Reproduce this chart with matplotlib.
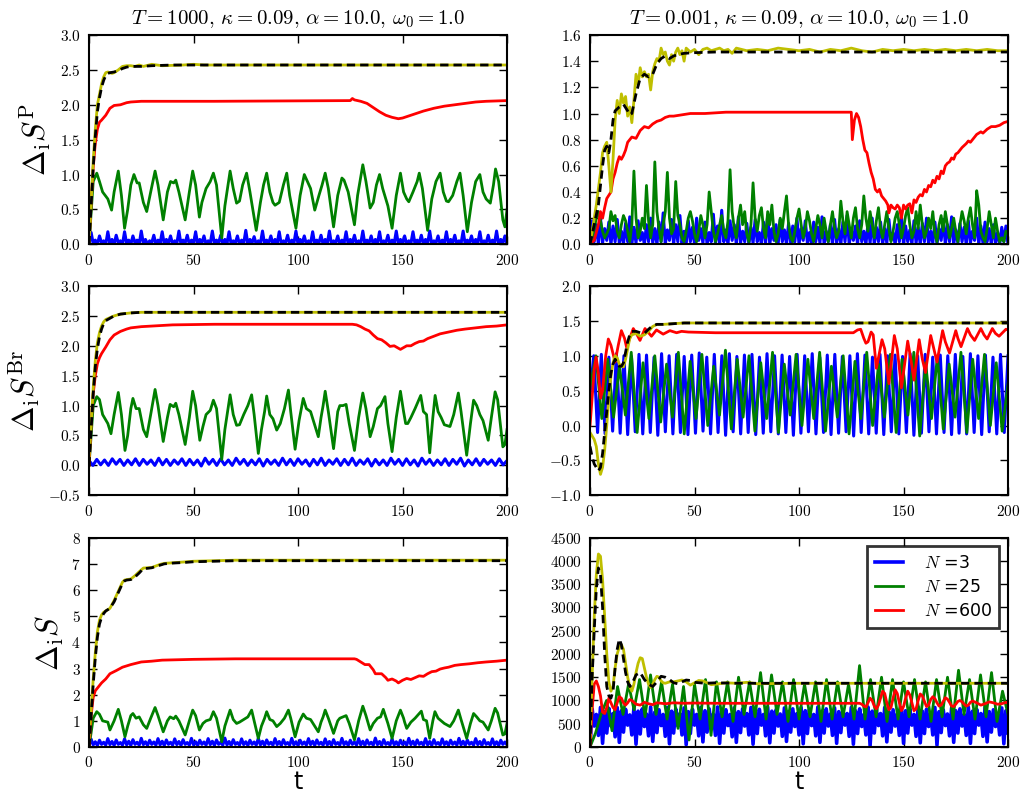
import numpy as np
import matplotlib.pyplot as plt
from matplotlib.ticker import FuncFormatter, MultipleLocator

plt.rcParams['mathtext.fontset'] = 'cm'
plt.rcParams['font.family'] = ['DejaVu Sans']

# ---------------- data (t, value) ----------------
titles = [r'$T=1000,\,\kappa=0.09,\,\alpha=10.0,\,\omega_0=1.0$',
          r'$T=0.001,\,\kappa=0.09,\,\alpha=10.0,\,\omega_0=1.0$']
ylabels = [r'$\Delta_{\rm i}S^{\rm P}$', r'$\Delta_{\rm i}S^{\rm Br}$', r'$\Delta_{\rm i}S$']
legend_labels = [r'$N$ =3', r'$N$ =25', r'$N$ =600']

# --- panel A: T=1000, dS^P
blue_A = [0.00, 0.17, 0.01, 0.06, 0.00, 0.12, 0.02, 0.05, 0.00, 0.18,
          0.01, 0.07, 0.00, 0.13, 0.02, 0.05, 0.00, 0.18, 0.01, 0.06,
          0.00, 0.12, 0.02, 0.06, 0.00, 0.19, 0.01, 0.07, 0.00, 0.05,
          0.02, 0.13, 0.00, 0.06, 0.01, 0.18, 0.00, 0.07, 0.02, 0.12,
          0.00, 0.05, 0.01, 0.19, 0.00, 0.06, 0.02, 0.13, 0.00, 0.06,
          0.01, 0.18, 0.00, 0.07, 0.02, 0.12, 0.00, 0.05, 0.01, 0.19,
          0.00, 0.06, 0.02, 0.13, 0.00, 0.07, 0.01, 0.18, 0.00, 0.05,
          0.02, 0.12, 0.00, 0.06, 0.01, 0.20, 0.00, 0.07, 0.02, 0.11,
          0.00, 0.05, 0.01, 0.19, 0.00, 0.06, 0.02, 0.12, 0.00, 0.07,
          0.01, 0.18, 0.00, 0.05, 0.02, 0.13, 0.00, 0.06, 0.01, 0.19,
          0.00, 0.07, 0.02, 0.12, 0.00, 0.05, 0.01, 0.18, 0.00, 0.06,
          0.02, 0.13, 0.00, 0.07, 0.01, 0.19, 0.00, 0.05, 0.02, 0.12,
          0.00, 0.06, 0.01, 0.18, 0.00, 0.07, 0.02, 0.13, 0.00, 0.05,
          0.01, 0.19, 0.00, 0.06, 0.02, 0.12, 0.00, 0.07, 0.01, 0.18,
          0.00, 0.05, 0.02, 0.13, 0.00, 0.06, 0.01, 0.19, 0.00, 0.07,
          0.02, 0.12, 0.00, 0.05, 0.01, 0.18, 0.00, 0.06, 0.02, 0.13,
          0.00, 0.07, 0.01, 0.19, 0.00, 0.05, 0.02, 0.12, 0.00, 0.06,
          0.01, 0.18, 0.00, 0.07, 0.02, 0.13, 0.00, 0.05, 0.01, 0.19,
          0.00, 0.06, 0.02, 0.12, 0.00, 0.07, 0.01, 0.18, 0.00, 0.05,
          0.02, 0.13, 0.00, 0.06, 0.01, 0.19, 0.00, 0.07, 0.02, 0.12,
          0.00]
green_A = [(0, 0.0), (2, 0.9), (3.7, 1.02), (5, 0.9), (6.5, 0.75), (9, 0.65), (10.8, 0.49), (12, 0.75),
           (14, 1.05), (15.5, 0.7), (17, 0.23), (18.5, 0.5), (20, 0.85), (21.5, 1.0), (23, 0.88), (24, 0.88),
           (26, 0.6), (27.6, 0.47), (29.5, 0.75), (31.6, 1.05), (33, 0.85), (35.5, 0.35), (37.5, 0.75),
           (39, 0.9), (40.5, 0.88), (41.5, 0.92), (43, 0.75), (46, 0.35), (48, 0.75), (49.6, 1.05),
           (51, 0.85), (52.8, 0.39), (54, 0.6), (56, 0.8), (58, 0.9), (59.5, 1.02), (61, 0.85), (63.5, 0.09),
           (65, 0.55), (67.5, 1.05), (69, 0.8), (70.6, 0.59), (72, 0.62), (73.5, 0.85), (75.4, 1.02),
           (77, 0.75), (80, 0.2), (82, 0.6), (83.5, 0.85), (85, 1.02), (86.5, 0.75), (88, 0.6), (89, 0.56),
           (91, 0.6), (93, 0.85), (94.6, 1.02), (96, 0.7), (99, 0.23), (101, 0.7), (103, 1.0), (104.5, 0.9),
           (106, 0.8), (108, 0.49), (110, 0.7), (111.5, 0.85), (113, 1.02), (114.5, 0.8), (117, 0.25),
           (119, 0.7), (121, 0.95), (122, 0.92), (124, 0.75), (127, 0.28), (128.5, 0.7), (131, 1.14),
           (132.5, 0.9), (134.5, 0.52), (136, 0.6), (137.5, 0.85), (139, 1.0), (140.5, 0.8), (143, 0.55),
           (145, 0.23), (147, 0.7), (149, 1.02), (150.5, 0.75), (152, 0.65), (153, 0.61), (155, 0.75),
           (157, 0.9), (158, 1.02), (159.5, 0.8), (162, 0.2), (164, 0.65), (166, 0.9), (168, 1.02),
           (169.5, 0.75), (171, 0.62), (172, 0.61), (174, 0.7), (176, 0.9), (177.5, 1.02), (179, 0.7),
           (181, 0.18), (183, 0.6), (185, 0.9), (187, 1.0), (188.5, 0.75), (190, 0.65), (192, 0.59),
           (193.5, 0.85), (194.5, 1.08), (196, 0.9), (198, 0.35), (199, 0.25), (200, 0.5)]
red_A = [(0, 0), (1, 0.6), (2, 1.1), (3, 1.45), (4, 1.65), (5, 1.75), (6, 1.78), (8, 1.85), (10, 1.95),
         (12, 1.99), (15, 2.0), (18, 2.03), (20, 2.04), (25, 2.05), (60, 2.05), (125, 2.06), (126, 2.09),
         (127, 2.07), (130, 2.05), (133, 2.02), (136, 1.96), (139, 1.9), (142, 1.85), (145, 1.82),
         (148, 1.8), (150, 1.81), (153, 1.84), (156, 1.87), (160, 1.91), (165, 1.95), (170, 1.98),
         (175, 2.0), (180, 2.02), (185, 2.04), (190, 2.05), (200, 2.06)]
yellow_A = [(0, 0), (1, 0.6), (2, 1.2), (3, 1.65), (4, 2.0), (5, 2.15), (6, 2.3), (7, 2.4), (8, 2.46),
            (9, 2.47), (10, 2.46), (11, 2.45), (12, 2.46), (14, 2.5), (16, 2.55), (18, 2.56), (20, 2.56),
            (22, 2.55), (24, 2.57), (26, 2.55), (30, 2.58), (35, 2.56), (45, 2.57), (50, 2.58),
            (55, 2.57), (200, 2.57)]
black_A = [(0, 0), (1, 0.55), (2, 1.1), (3, 1.55), (4, 1.9), (5, 2.1), (6, 2.25), (7, 2.35), (8, 2.42),
           (9, 2.45), (10, 2.46), (12, 2.47), (14, 2.49), (16, 2.52), (18, 2.54), (20, 2.55), (25, 2.55),
           (30, 2.56), (40, 2.57), (200, 2.57)]

# --- panel B: T=0.001, dS^P
blue_B = [0.00, 0.18, 0.02, 0.15, 0.00, 0.20, 0.01, 0.12, 0.03, 0.17,
          0.00, 0.14, 0.02, 0.19, 0.01, 0.10, 0.00, 0.16, 0.02, 0.21,
          0.00, 0.13, 0.01, 0.18, 0.03, 0.09, 0.00, 0.15, 0.02, 0.20,
          0.01, 0.12, 0.00, 0.17, 0.02, 0.24, 0.00, 0.11, 0.03, 0.19,
          0.00, 0.15, 0.02, 0.22, 0.01, 0.10, 0.00, 0.18, 0.02, 0.13,
          0.00, 0.20, 0.03, 0.12, 0.01, 0.17, 0.00, 0.09, 0.02, 0.23,
          0.01, 0.14, 0.00, 0.26, 0.02, 0.11, 0.00, 0.18, 0.03, 0.15,
          0.00, 0.21, 0.01, 0.10, 0.02, 0.16, 0.00, 0.13, 0.01, 0.19,
          0.02, 0.09, 0.00, 0.17, 0.01, 0.22, 0.00, 0.12, 0.03, 0.15,
          0.00, 0.19, 0.02, 0.11, 0.00, 0.16, 0.01, 0.14, 0.02, 0.20,
          0.00, 0.12, 0.03, 0.18, 0.01, 0.09, 0.00, 0.17, 0.02, 0.13,
          0.01, 0.21, 0.00, 0.10, 0.02, 0.15, 0.00, 0.19, 0.01, 0.12,
          0.00, 0.17, 0.02, 0.22, 0.00, 0.11, 0.03, 0.14, 0.00, 0.18,
          0.02, 0.10, 0.00, 0.16, 0.01, 0.20, 0.00, 0.13, 0.02, 0.17,
          0.00, 0.12, 0.01, 0.19, 0.03, 0.09, 0.00, 0.15, 0.02, 0.21,
          0.00, 0.14, 0.02, 0.11, 0.00, 0.18, 0.01, 0.13, 0.00, 0.16,
          0.02, 0.20, 0.00, 0.10, 0.01, 0.17, 0.00, 0.12, 0.03, 0.19,
          0.00, 0.15, 0.02, 0.21, 0.00, 0.11, 0.01, 0.16, 0.02, 0.13,
          0.00, 0.18, 0.01, 0.10, 0.03, 0.20, 0.00, 0.14, 0.01, 0.17,
          0.02, 0.12, 0.00, 0.15, 0.01, 0.09, 0.00, 0.13, 0.02, 0.14,
          0.00]
green_B = [0.00, 0.05, 0.12, 0.20, 0.25, 0.18, 0.10, 0.05, 0.08, 0.12,
           0.25, 0.18, 0.22, 0.10, 0.05, 0.15, 0.22, 0.18, 0.10, 0.02,
           0.15, 0.56, 0.20, 0.05, 0.10, 0.20, 0.12, 0.45, 0.18, 0.05,
           0.15, 0.63, 0.25, 0.12, 0.02, 0.15, 0.25, 0.55, 0.20, 0.08,
           0.12, 0.48, 0.22, 0.15, 0.05, 0.02, 0.10, 0.20, 0.25, 0.18,
           0.08, 0.02, 0.10, 0.22, 0.15, 0.05, 0.15, 0.40, 0.25, 0.10,
           0.02, 0.08, 0.15, 0.22, 0.10, 0.05, 0.18, 0.57, 0.25, 0.12,
           0.05, 0.20, 0.30, 0.15, 0.25, 0.08, 0.02, 0.15, 0.47, 0.20,
           0.10, 0.22, 0.28, 0.12, 0.05, 0.25, 0.15, 0.30, 0.10, 0.02,
           0.08, 0.20, 0.12, 0.25, 0.37, 0.15, 0.05, 0.02, 0.10, 0.20,
           0.27, 0.15, 0.05, 0.12, 0.25, 0.18, 0.08, 0.02, 0.12, 0.22,
           0.15, 0.05, 0.20, 0.10, 0.02, 0.15, 0.25, 0.12, 0.05, 0.10,
           0.33, 0.18, 0.08, 0.25, 0.15, 0.05, 0.20, 0.28, 0.12, 0.05,
           0.15, 0.37, 0.20, 0.10, 0.25, 0.15, 0.05, 0.18, 0.28, 0.12,
           0.05, 0.15, 0.25, 0.12, 0.02, 0.10, 0.20, 0.25, 0.15, 0.05,
           0.12, 0.22, 0.28, 0.15, 0.05, 0.10, 0.25, 0.12, 0.30, 0.15,
           0.05, 0.10, 0.20, 0.12, 0.25, 0.08, 0.02, 0.15, 0.22, 0.10,
           0.25, 0.15, 0.05, 0.12, 0.20, 0.10, 0.02, 0.15, 0.25, 0.18,
           0.08, 0.20, 0.28, 0.15, 0.05, 0.41, 0.30, 0.10, 0.05, 0.02,
           0.12, 0.25, 0.15, 0.05, 0.20, 0.10, 0.02, 0.05, 0.02, 0.10,
           0.08]
red_B = [(0, 0), (2, 0.03), (4, 0.15), (5, 0.25), (6, 0.2), (7, 0.28), (8, 0.35), (10, 0.4), (11, 0.5),
         (12, 0.55), (13, 0.62), (14, 0.67), (15, 0.65), (16, 0.68), (17, 0.72), (18, 0.78), (19, 0.8),
         (20, 0.82), (22, 0.81), (24, 0.87), (26, 0.9), (28, 0.89), (30, 0.92), (32, 0.94), (34, 0.95),
         (36, 0.97), (38, 0.98), (40, 0.98), (44, 0.99), (48, 1.0), (55, 1.0), (65, 1.01), (125, 1.01),
         (125.5, 0.8), (126.5, 0.95), (127.5, 1.0), (128.5, 0.97), (129.5, 0.9), (130.5, 0.8),
         (131.5, 0.72), (132.5, 0.7), (133.5, 0.62), (134.5, 0.55), (135.5, 0.5), (136.5, 0.42),
         (137.5, 0.4), (138.5, 0.42), (139.5, 0.37), (140.5, 0.35), (141.5, 0.33), (142.5, 0.3),
         (143, 0.24), (144, 0.3), (145, 0.28), (146, 0.27), (147, 0.3), (148, 0.28), (149, 0.2),
         (150, 0.3), (151, 0.27), (152, 0.3), (153, 0.31), (154, 0.24), (155, 0.34), (156, 0.32),
         (157, 0.36), (158, 0.38), (159, 0.37), (160, 0.42), (161, 0.4), (162, 0.45), (163, 0.44),
         (164, 0.49), (165, 0.47), (166, 0.52), (167, 0.5), (168, 0.56), (169, 0.54), (170, 0.6),
         (171, 0.62), (172, 0.63), (173, 0.66), (174, 0.65), (175, 0.69), (176, 0.7), (178, 0.74),
         (180, 0.77), (181, 0.79), (182, 0.78), (184, 0.82), (185, 0.84), (187, 0.86), (188, 0.85),
         (190, 0.88), (192, 0.9), (194, 0.9), (196, 0.91), (198, 0.93), (200, 0.94)]
yellow_B = [(0, 0), (2, 0.2), (3, 0.3), (5, 0.55), (6, 0.7), (7, 0.75), (8, 0.78), (9, 0.6), (10, 0.4),
            (11, 0.65), (12, 0.95), (13, 1.1), (14, 1.0), (15, 1.15), (16, 1.08), (17, 1.13), (18, 0.98),
            (19, 1.05), (20, 0.93), (21, 1.1), (22, 1.3), (23, 1.22), (24, 1.35), (25, 1.28), (26, 1.32),
            (27, 1.28), (28, 1.3), (29, 1.18), (30, 1.32), (31, 1.38), (32, 1.42), (33, 1.4), (34, 1.5),
            (35, 1.45), (36, 1.47), (37, 1.4), (38, 1.37), (39, 1.45), (40, 1.4), (41, 1.47), (42, 1.5),
            (43, 1.45), (44, 1.48), (45, 1.4), (46, 1.5), (48, 1.47), (50, 1.49), (52, 1.45), (54, 1.49),
            (56, 1.5), (58, 1.48), (60, 1.49), (62, 1.5), (64, 1.48), (66, 1.49), (68, 1.46), (70, 1.5),
            (75, 1.48), (80, 1.49), (85, 1.48), (90, 1.5), (95, 1.49), (100, 1.48), (105, 1.49),
            (110, 1.47), (115, 1.49), (120, 1.48), (125, 1.5), (130, 1.48), (135, 1.47), (140, 1.49),
            (145, 1.48), (150, 1.49), (155, 1.48), (160, 1.49), (165, 1.48), (170, 1.49), (175, 1.48),
            (180, 1.49), (185, 1.48), (190, 1.49), (195, 1.48), (200, 1.48)]
black_B = [(0, 0), (2, 0.15), (4, 0.3), (5, 0.45), (6, 0.6), (7, 0.72), (8, 0.75), (9, 0.7), (10, 0.8),
           (11, 0.95), (12, 1.02), (14, 1.05), (16, 1.07), (18, 1.02), (19, 0.99), (20, 1.0), (22, 1.15),
           (24, 1.27), (26, 1.3), (28, 1.28), (30, 1.3), (32, 1.38), (34, 1.42), (36, 1.44), (38, 1.42),
           (40, 1.44), (42, 1.45), (45, 1.46), (50, 1.465), (60, 1.47), (200, 1.47)]

# --- panel C: T=1000, dS^Br
blue_C = [0.08, 0.00, 0.10, 0.01, 0.09, 0.00, 0.11, 0.02, 0.10, 0.00,
          0.09, 0.01, 0.11, 0.00, 0.10, 0.02, 0.09, 0.00, 0.12, 0.01,
          0.10, 0.00, 0.09, 0.02, 0.11, 0.00, 0.10, 0.01, 0.09, -0.01,
          0.12, 0.02, 0.10, 0.00, 0.11, 0.01, 0.09, 0.00, 0.12, 0.02,
          0.10, 0.00, 0.09, 0.01, 0.11, -0.01, 0.10, 0.02, 0.09, 0.00,
          0.12, 0.01, 0.10, 0.00, 0.11, 0.02, 0.09, -0.01, 0.10, 0.01,
          0.12, 0.00, 0.09, 0.02, 0.11, 0.00, 0.10, 0.01, 0.12, 0.00,
          0.09, 0.02, 0.11, -0.01, 0.10, 0.01, 0.09, 0.00, 0.12, 0.02,
          0.10, 0.00, 0.11, 0.01, 0.09, -0.01, 0.12, 0.02, 0.10, 0.00,
          0.09, 0.01, 0.11, 0.00, 0.10, 0.02, 0.12, -0.01, 0.09, 0.01,
          0.11, 0.00, 0.10, 0.02, 0.09, 0.00, 0.11, 0.01, 0.08]
green_C = [(0, 0.0), (2, 1.0), (3.7, 1.15), (5, 1.1), (6.5, 0.85), (9, 0.7), (10.5, 0.53), (12, 0.85),
           (14, 1.22), (15.5, 0.85), (17.2, 0.25), (18.5, 0.5), (20, 0.95), (21, 1.12), (22.5, 0.95),
           (24, 0.95), (26, 0.6), (27.6, 0.48), (29.5, 0.85), (31.6, 1.27), (33, 1.0), (35.5, 0.4),
           (37.5, 0.8), (38.8, 1.02), (40.5, 0.98), (41.5, 1.04), (43, 0.85), (46, 0.35), (48, 0.8),
           (49.6, 1.24), (51, 1.0), (53, 0.42), (54.5, 0.65), (56, 0.85), (58, 0.92), (59.5, 1.09),
           (61, 0.95), (63.5, 0.1), (65, 0.6), (67.5, 1.18), (69, 0.85), (70.6, 0.67), (72, 0.68),
           (74, 0.85), (76, 1.0), (77.8, 1.18), (79, 0.85), (81, 0.2), (82.5, 0.6), (84, 0.9), (85, 1.16),
           (86.5, 0.85), (88, 0.78), (89.8, 0.59), (91.5, 0.7), (93.5, 0.95), (95.4, 1.26), (96.5, 0.9),
           (98.6, 0.27), (100.5, 0.75), (102.5, 1.12), (104, 0.95), (106, 0.9), (109.7, 0.48), (111, 0.8),
           (112, 1.0), (113, 1.24), (114.5, 0.9), (117, 0.28), (119, 0.9), (120, 1.0), (121.5, 1.0),
           (123, 1.02), (124.5, 0.7), (127, 0.25), (129, 0.8), (131, 1.21), (132.5, 0.95), (134.5, 0.48),
           (136, 0.65), (138, 0.95), (139.5, 1.0), (141.6, 1.15), (143, 0.7), (145, 0.23), (147, 0.8),
           (149, 1.24), (150.5, 0.9), (151.5, 0.7), (152.5, 0.7), (154, 0.8), (156, 0.95), (158.7, 1.17),
           (160, 0.9), (161.5, 0.85), (163, 0.21), (164.5, 0.8), (165.6, 1.17), (167, 0.9), (168.5, 0.8),
           (170, 0.68), (172.7, 0.65), (174.5, 0.85), (176.7, 1.21), (178, 0.9), (180.7, 0.17),
           (182.5, 0.7), (184, 1.09), (185.5, 1.0), (187, 0.85), (188.5, 0.75), (191, 0.42), (192.5, 0.8),
           (194.3, 1.23), (195.5, 1.1), (198, 0.31), (199, 0.35), (200, 0.6)]
red_C = [(0, 0), (1, 0.7), (2, 1.2), (3, 1.5), (4, 1.7), (5, 1.8), (6, 1.87), (8, 1.98), (10, 2.1),
         (12, 2.18), (15, 2.24), (18, 2.28), (20, 2.3), (25, 2.32), (30, 2.33), (40, 2.35), (60, 2.36),
         (126, 2.36), (128, 2.35), (130, 2.32), (132, 2.28), (134, 2.25), (136, 2.18), (138, 2.12),
         (140, 2.1), (142, 2.05), (144, 1.99), (146, 2.0), (148, 1.96), (149, 1.94), (150, 1.96),
         (152, 2.0), (154, 2.0), (156, 2.04), (158, 2.07), (160, 2.08), (162, 2.12), (165, 2.16),
         (168, 2.2), (172, 2.23), (176, 2.26), (180, 2.28), (185, 2.3), (190, 2.32), (195, 2.33),
         (200, 2.35)]
yellow_C = [(0, 0.1), (1, 0.7), (2, 1.3), (3, 1.75), (4, 2.05), (5, 2.22), (6, 2.33), (7, 2.4), (8, 2.44),
            (10, 2.47), (12, 2.5), (15, 2.53), (20, 2.55), (25, 2.56), (200, 2.56)]
black_C = [(0, 0), (1, 0.6), (2, 1.2), (3, 1.65), (4, 1.95), (5, 2.15), (6, 2.28), (7, 2.37), (8, 2.42),
           (10, 2.46), (12, 2.5), (15, 2.53), (20, 2.55), (25, 2.56), (200, 2.56)]

# --- panel D: T=0.001, dS^Br
blue_D = [0.45, 1.00, -0.10, 1.02, -0.12, 0.98, -0.08, 1.03, -0.11, 1.00,
          -0.13, 0.99, -0.09, 1.02, -0.12, 1.01, -0.10, 0.98, -0.14, 1.03,
          -0.09, 1.00, -0.12, 1.02, -0.10, 0.99, -0.13, 1.01, -0.11, 1.04,
          -0.08, 0.98, -0.12, 1.02, -0.10, 1.00, -0.14, 1.03, -0.09, 0.99,
          -0.12, 1.01, -0.10, 1.02, -0.13, 0.98, -0.11, 1.03, -0.09, 1.00,
          -0.12, 1.01, -0.10, 0.99, -0.14, 1.02, -0.11, 1.00, -0.09, 1.03,
          -0.12, 0.98, -0.10, 1.01, -0.13, 1.02, -0.11, 0.99, -0.09, 1.00,
          -0.15, 1.03, -0.10, 1.01, -0.12, 0.98, -0.11, 1.02, -0.13, 1.00,
          -0.09, 1.01, -0.12, 0.99, -0.10, 1.03, -0.14, 1.00, -0.11, 1.02,
          -0.09, 0.98, -0.12, 1.01, -0.10, 1.00, -0.13, 1.02, -0.11, 0.99,
          -0.12, 1.03, -0.10, 1.00, -0.13, 1.01, -0.09, 0.98, -0.12, 1.02,
          -0.10, 1.00]
green_D = [0.55, 1.00, 0.10, 0.95, 0.12, 0.85, 0.15, 1.05, -0.10, 0.90,
           0.10, 1.00, 0.05, 0.88, 0.12, 1.05, -0.12, 0.92, 0.10, 1.02,
           0.00, 0.85, 0.15, 1.08, -0.05, 0.95, 0.12, 1.00, -0.08, 0.90,
           0.10, 1.05, -0.10, 0.88, 0.15, 1.02, 0.00, 0.95, 0.10, 1.05,
           -0.08, 0.85, 0.12, 1.00, -0.12, 0.92, 0.10, 1.05, 0.00, 0.88,
           0.12, 1.02, -0.10, 0.95, 0.15, 1.05, -0.15, 0.90, 0.10, 1.00,
           -0.05, 0.88, 0.12, 1.05, -0.10, 0.95, 0.10, 1.02, 0.00, 0.90,
           -0.08, 0.60]
red_D = [(0, 0.0), (1, 0.4), (2, 0.8), (2.9, 0.98), (4, 0.75), (5, 0.39), (6, 0.5), (7.5, 1.0),
         (8.75, 1.24), (10, 1.15), (12, 0.91), (13.5, 1.15), (15, 1.36), (16.5, 1.25), (17.5, 1.12),
         (19, 1.25), (20.7, 1.39), (22.5, 1.3), (23.9, 1.22), (25, 1.3), (26.3, 1.39), (28, 1.33),
         (29.4, 1.28), (31.8, 1.37), (35, 1.31), (38.2, 1.36), (41.4, 1.33), (43.8, 1.35), (47, 1.34),
         (60, 1.33), (126, 1.33), (128, 1.37), (129.5, 1.38), (131, 1.25), (132, 1.18), (133, 1.2),
         (134.5, 1.34), (135.5, 1.3), (137, 0.82), (139.7, 1.23), (141, 1.1), (143, 0.6), (145.6, 1.29),
         (147, 1.1), (149, 0.54), (152, 1.21), (153.5, 0.95), (155, 0.65), (157.5, 1.23), (159, 0.95),
         (160.5, 0.76), (163, 1.29), (164.5, 1.1), (166, 0.91), (168.7, 1.36), (170, 1.2), (172, 1.04),
         (175, 1.36), (176, 1.25), (177.5, 1.13), (180.6, 1.39), (182, 1.3), (184, 1.22), (187, 1.39),
         (188.5, 1.3), (190, 1.24), (192.5, 1.39), (194, 1.32), (195.7, 1.28), (199, 1.38), (200, 1.37)]
yellow_D = [(0, -0.1), (2, -0.2), (3, -0.3), (4, -0.55), (5, -0.7), (6, -0.6), (7, -0.35), (8, 0.0),
            (9, 0.4), (10, 0.7), (11, 0.9), (12, 1.0), (13, 0.97), (14, 0.88), (15, 0.85), (16, 0.84),
            (17, 0.95), (18, 1.1), (19, 1.25), (20, 1.3), (22, 1.32), (24, 1.28), (26, 1.3), (28, 1.35),
            (30, 1.42), (32, 1.45), (35, 1.45), (40, 1.46), (45, 1.47), (200, 1.47)]
black_D = [(0, -0.3), (1, -0.45), (2, -0.55), (3, -0.6), (4, -0.65), (5, -0.6), (6, -0.4), (7, -0.1),
           (8, 0.2), (9, 0.5), (10, 0.75), (11, 0.88), (12, 0.95), (13, 0.9), (14, 0.85), (15, 0.85),
           (16, 0.9), (17, 1.05), (18, 1.2), (19, 1.3), (20, 1.35), (22, 1.35), (24, 1.33), (26, 1.32),
           (28, 1.38), (30, 1.43), (32, 1.45), (35, 1.45), (40, 1.46), (45, 1.47), (200, 1.47)]

# --- panel E: T=1000, dS
blue_E = [0.05, 0.30, 0.08, 0.20, 0.06, 0.26, 0.10, 0.18, 0.07, 0.32,
          0.09, 0.21, 0.06, 0.27, 0.10, 0.17, 0.07, 0.31, 0.08, 0.22,
          0.06, 0.28, 0.10, 0.18, 0.07, 0.33, 0.09, 0.20, 0.06, 0.26,
          0.10, 0.19, 0.07, 0.32, 0.08, 0.22, 0.06, 0.27, 0.10, 0.18,
          0.07, 0.31, 0.09, 0.21, 0.06, 0.28, 0.10, 0.17, 0.07, 0.33,
          0.08, 0.20, 0.06, 0.26, 0.10, 0.19, 0.07, 0.32, 0.09, 0.22,
          0.06, 0.27, 0.10, 0.18, 0.07, 0.34, 0.08, 0.21, 0.06, 0.28,
          0.10, 0.17, 0.07, 0.31, 0.09, 0.20, 0.06, 0.26, 0.10, 0.19,
          0.07, 0.33, 0.08, 0.22, 0.06, 0.27, 0.10, 0.18, 0.07, 0.32,
          0.09, 0.21, 0.06, 0.28, 0.10, 0.17, 0.07, 0.33, 0.08, 0.20,
          0.06, 0.26, 0.10, 0.19, 0.07, 0.32, 0.09, 0.22, 0.06, 0.27,
          0.10, 0.18, 0.07, 0.31, 0.08, 0.21, 0.06, 0.28, 0.10, 0.17,
          0.07, 0.33, 0.09, 0.20, 0.06, 0.26, 0.10, 0.19, 0.07, 0.32,
          0.08, 0.22, 0.06, 0.27, 0.10, 0.18, 0.07, 0.34, 0.09, 0.21,
          0.06, 0.28, 0.10, 0.17, 0.07, 0.31, 0.08, 0.20, 0.06, 0.26,
          0.10, 0.19, 0.07, 0.33, 0.09, 0.22, 0.06, 0.27, 0.10, 0.18,
          0.07, 0.32, 0.08, 0.21, 0.06, 0.28, 0.10, 0.17, 0.07, 0.31,
          0.09, 0.20, 0.06, 0.26, 0.10, 0.19, 0.07, 0.33, 0.08, 0.22,
          0.06, 0.27, 0.10, 0.18, 0.07, 0.32, 0.09, 0.21, 0.06, 0.28,
          0.10, 0.17, 0.07, 0.31, 0.08, 0.20, 0.06, 0.26, 0.10, 0.19,
          0.08]
green_E = [(0, 0.0), (2, 1.1), (3.7, 1.35), (5, 1.25), (6.5, 1.0), (9, 0.95), (10, 0.65), (12, 1.0),
           (14, 1.44), (15.5, 1.0), (17.2, 0.39), (18.5, 0.8), (20, 1.2), (21, 1.28), (22.5, 1.1),
           (24, 1.15), (26, 0.85), (27.6, 0.71), (29.5, 1.1), (31.6, 1.51), (33, 1.2), (35.5, 0.58),
           (37.5, 1.0), (38.8, 1.15), (40.5, 1.08), (41.5, 1.18), (43, 1.0), (46, 0.46), (48, 1.0),
           (49.6, 1.41), (51, 1.2), (52.8, 0.65), (54.5, 0.9), (56, 1.0), (58, 1.05), (59.5, 1.35),
           (61, 1.1), (63.5, 0.2), (65, 0.8), (67.5, 1.41), (69, 1.05), (70.6, 0.9), (72, 0.95),
           (74, 1.05), (76, 1.15), (77.8, 1.41), (79, 1.0), (81, 0.33), (82.5, 0.8), (84, 1.1),
           (85, 1.35), (86.5, 1.05), (88, 1.0), (89.8, 0.78), (91.5, 0.9), (93.5, 1.1), (95.4, 1.41),
           (96.5, 1.1), (98.6, 0.39), (100.5, 0.95), (102.5, 1.26), (104, 1.1), (106, 1.05),
           (109.7, 0.58), (111, 0.95), (112, 1.15), (113, 1.41), (114.5, 1.1), (117, 0.52), (119, 1.0),
           (120, 1.1), (121.5, 1.15), (123, 1.2), (124.5, 0.9), (127, 0.27), (129, 1.0), (131, 1.56),
           (132.5, 1.2), (134.5, 0.65), (136, 0.9), (138, 1.1), (139.5, 1.15), (140.8, 1.44), (143, 0.9),
           (145, 0.33), (147, 1.0), (149, 1.41), (150.5, 1.1), (151, 0.95), (152, 0.71), (154, 0.95),
           (156, 1.1), (159, 1.37), (160, 1.05), (161.5, 1.0), (163, 0.33), (164.5, 1.0), (165.5, 1.35),
           (167, 1.1), (168.5, 1.0), (170, 0.9), (172.7, 0.78), (174.5, 1.0), (176.7, 1.41), (178, 1.05),
           (180.7, 0.33), (182.5, 0.9), (184, 1.28), (185.5, 1.15), (187, 1.0), (188.5, 0.95),
           (191, 0.65), (192.5, 1.0), (194.3, 1.48), (195.5, 1.3), (198, 0.46), (199, 0.5), (200, 0.9)]
red_E = [(0, 0), (1, 1.2), (2, 1.9), (3, 2.15), (4, 2.25), (5, 2.35), (6, 2.45), (8, 2.6), (10, 2.8),
         (13, 2.92), (16, 3.05), (20, 3.15), (25, 3.25), (30, 3.28), (35, 3.32), (50, 3.35), (70, 3.37),
         (127, 3.37), (128, 3.35), (130, 3.25), (132, 3.15), (134, 3.15), (136, 2.95), (137, 2.8),
         (140, 2.8), (142, 2.65), (143, 2.55), (145, 2.6), (147, 2.52), (148, 2.45), (150, 2.55),
         (152, 2.62), (154, 2.58), (156, 2.65), (158, 2.72), (160, 2.7), (162, 2.8), (164, 2.88),
         (166, 2.9), (168, 2.98), (170, 3.02), (172, 3.05), (175, 3.12), (178, 3.15), (182, 3.18),
         (186, 3.22), (190, 3.25), (195, 3.28), (200, 3.32)]
yellow_E = [(0, 0.3), (1, 1.4), (2, 2.6), (3, 3.6), (4, 4.4), (5, 4.85), (6, 5.05), (7, 5.15), (8, 5.2),
            (10, 5.3), (12, 5.6), (14, 5.95), (16, 6.3), (17, 6.38), (18, 6.4), (20, 6.42), (22, 6.55),
            (24, 6.7), (26, 6.84), (28, 6.85), (30, 6.86), (32, 6.92), (34, 6.98), (36, 7.02), (40, 7.04),
            (45, 7.07), (50, 7.1), (60, 7.12), (70, 7.14), (200, 7.14)]
black_E = [(0, 0), (1, 1.2), (2, 2.4), (3, 3.4), (4, 4.2), (5, 4.7), (6, 4.95), (7, 5.1), (8, 5.2),
           (10, 5.3), (12, 5.55), (14, 5.9), (16, 6.25), (17, 6.35), (18, 6.38), (20, 6.4), (22, 6.5),
           (24, 6.65), (26, 6.82), (28, 6.83), (30, 6.85), (32, 6.9), (34, 6.95), (36, 7.0), (40, 7.03),
           (45, 7.05), (50, 7.08), (60, 7.1), (70, 7.12), (200, 7.12)]

# --- panel F: T=0.001, dS
blue_F = [0, 820, 450, 700, 250, 850, 80, 760, 300, 830,
          450, 720, 220, 850, 100, 780, 320, 810, 470, 690,
          260, 840, 60, 770, 280, 820, 440, 710, 240, 860,
          120, 750, 310, 800, 460, 700, 230, 850, 70, 770,
          300, 820, 450, 720, 260, 840, 50, 760, 290, 810,
          470, 700, 240, 850, 110, 780, 320, 820, 440, 710,
          250, 860, 80, 770, 300, 800, 460, 700, 220, 840,
          100, 760, 310, 820, 450, 720, 260, 850, 60, 780,
          290, 810, 470, 700, 240, 860, 90, 770, 300, 800,
          450, 710, 230, 840, 120, 760, 320, 820, 440, 720,
          260, 850, 70, 780, 290, 810, 460, 700, 240, 860,
          100, 770, 300, 820, 450, 710, 250, 840, 80, 760,
          310, 800, 470, 720, 230, 850, 60, 780, 290, 820,
          440, 700, 260, 860, 30, 770, 300, 810, 460, 720,
          240, 850, 110, 760, 320, 800, 450, 710, 250, 840,
          80, 780, 300, 820, 470, 700, 230, 860, 90, 770,
          290, 810, 440, 720, 260, 850, 40, 760, 310, 800,
          460, 710, 240, 840, 100, 780, 300, 820, 450, 700,
          250, 860, 80, 770, 290, 810, 470, 720, 230, 850,
          110, 760, 320, 800, 440, 710, 260, 840, 70, 780,
          300]
green_F = [0, 300, 700, 1000, 350, 1300, 700, 1350, 800, 1450,
           650, 1550, 700, 1400, 600, 1350, 400, 1300, 150, 1350,
           600, 1450, 250, 1400, 650, 1400, 550, 1500, 700, 1400,
           650, 1600, 600, 1550, 700, 1400, 550, 1450, 600, 1350,
           650, 1400, 550, 1450, 600, 1400, 650, 1350, 600, 1750,
           600, 1450, 650, 1500, 550, 1450, 600, 1400, 650, 1450,
           600, 1400, 550, 1450, 650, 1500, 600, 1650, 700, 1450,
           600, 1550, 650, 1600, 550, 1200, 700]
red_F = [(0, 0), (1, 800), (2, 1350), (3, 1420), (4, 1300), (5, 1100), (6, 750), (7, 720), (8, 850),
         (9, 1050), (10, 950), (11, 850), (12, 800), (13, 950), (14, 1080), (15, 1050), (16, 950),
         (17, 900), (18, 950), (19, 1020), (20, 1000), (22, 920), (24, 900), (26, 960), (28, 930),
         (30, 910), (32, 950), (34, 940), (36, 930), (40, 950), (45, 940), (50, 945), (60, 940),
         (129, 940), (130, 920), (131, 880), (132, 860), (133, 950), (134, 1050), (135, 1000),
         (136, 880), (137, 820), (138, 900), (139, 1050), (140, 1200), (141, 1150), (142, 950),
         (143, 800), (144, 850), (145, 1050), (146, 1230), (147, 1150), (148, 950), (149, 780),
         (150, 870), (151, 1050), (152, 1200), (153, 1120), (154, 950), (155, 780), (156, 820),
         (157, 1000), (158, 1140), (159, 1100), (160, 980), (161, 870), (162, 900), (163, 1020),
         (164, 1080), (165, 1040), (166, 950), (167, 880), (168, 900), (169, 980), (170, 1060),
         (171, 1030), (172, 960), (173, 880), (174, 870), (175, 920), (176, 980), (177, 1000),
         (178, 970), (179, 920), (180, 880), (181, 900), (182, 960), (183, 990), (185, 950), (187, 900),
         (189, 930), (191, 970), (193, 950), (195, 920), (197, 930), (199, 960), (200, 940)]
yellow_F = [(0, 200), (1, 1500), (2, 2800), (3, 3700), (4, 4150), (5, 4100), (6, 3600), (7, 2800),
            (8, 2000), (9, 1400), (10, 1200), (11, 1300), (12, 1700), (13, 2000), (14, 2150), (15, 2200),
            (16, 2100), (17, 1800), (18, 1500), (19, 1300), (20, 1200), (21, 1350), (22, 1600), (23, 1800),
            (24, 1920), (25, 1900), (26, 1700), (27, 1500), (28, 1350), (29, 1280), (30, 1350), (31, 1450),
            (32, 1520), (33, 1500), (34, 1420), (35, 1380), (36, 1370), (38, 1400), (40, 1400),
            (42, 1420), (44, 1440), (46, 1400), (48, 1330), (50, 1380), (52, 1430), (54, 1420),
            (56, 1380), (58, 1340), (60, 1350), (65, 1380), (70, 1370), (75, 1390), (80, 1360),
            (100, 1370), (200, 1370)]
black_F = [(0, 0), (1, 1500), (2, 2500), (3, 3400), (4, 3850), (5, 3700), (6, 3000), (7, 2000),
           (8, 1300), (9, 1100), (10, 1050), (11, 1200), (12, 1700), (13, 2100), (14, 2320), (15, 2200),
           (16, 1900), (17, 1600), (18, 1400), (19, 1300), (20, 1350), (22, 1550), (24, 1600),
           (26, 1450), (28, 1350), (30, 1300), (32, 1400), (34, 1520), (36, 1500), (38, 1450),
           (40, 1380), (42, 1360), (44, 1400), (46, 1440), (48, 1430), (50, 1390), (55, 1370),
           (60, 1380), (70, 1370), (200, 1370)]


def xy(pairs):
    a = np.array(pairs, dtype=float)
    return a[:, 0], a[:, 1]


def grid(vals):
    return np.linspace(0, 200, len(vals)), np.array(vals, dtype=float)


panels = [
    dict(blue=grid(blue_A), green=xy(green_A), red=xy(red_A), yellow=xy(yellow_A), black=xy(black_A),
         ylim=(0, 3.0), step=0.5, fmt='$%.1f$'),
    dict(blue=grid(blue_B), green=grid(green_B), red=xy(red_B), yellow=xy(yellow_B), black=xy(black_B),
         ylim=(0, 1.6), step=0.2, fmt='$%.1f$'),
    dict(blue=grid(blue_C), green=xy(green_C), red=xy(red_C), yellow=xy(yellow_C), black=xy(black_C),
         ylim=(-0.5, 3.0), step=0.5, fmt='$%.1f$'),
    dict(blue=grid(blue_D), green=grid(green_D), red=xy(red_D), yellow=xy(yellow_D), black=xy(black_D),
         ylim=(-1.0, 2.0), step=0.5, fmt='$%.1f$'),
    dict(blue=grid(blue_E), green=xy(green_E), red=xy(red_E), yellow=xy(yellow_E), black=xy(black_E),
         ylim=(0, 8), step=1, fmt='$%d$'),
    dict(blue=grid(blue_F), green=grid(green_F), red=xy(red_F), yellow=xy(yellow_F), black=xy(black_F),
         ylim=(0, 4500), step=500, fmt='$%d$'),
]

fig = plt.figure(figsize=(10.21, 7.94), dpi=100)
lefts = [0.0872, 0.5779]
bottoms = [0.6923, 0.3762, 0.0592]
w, h = 0.4094, 0.2636

lw = 2.0
for i, p in enumerate(panels):
    row, col = divmod(i, 2)
    ax = fig.add_axes([lefts[col], bottoms[row], w, h])
    l1, = ax.plot(*p['blue'], color='b', lw=2.6 if i == 5 else 2.2)
    l2, = ax.plot(*p['green'], color=(0, 0.5, 0), lw=lw)
    l3, = ax.plot(*p['red'], color='r', lw=lw)
    ax.plot(*p['yellow'], color=(0.75, 0.75, 0), lw=lw)
    ax.plot(*p['black'], color='k', lw=lw, linestyle=(0, (3, 1.8)))

    ax.set_xlim(0, 200)
    ax.set_ylim(*p['ylim'])
    ax.xaxis.set_major_locator(MultipleLocator(50))
    ax.yaxis.set_major_locator(MultipleLocator(p['step']))
    ax.xaxis.set_major_formatter(FuncFormatter(lambda v, pos: '$%d$' % v))
    ax.yaxis.set_major_formatter(FuncFormatter(lambda v, pos, f=p['fmt']: f % v))
    ax.tick_params(direction='in', top=True, right=True, length=6, width=1,
                   labelsize=11, pad=6)
    for s in ax.spines.values():
        s.set_linewidth(1.5)

    if row == 0:
        ax.set_title(titles[col], fontsize=15, pad=8)
    if col == 0:
        ax.set_ylabel(ylabels[row], fontsize=22)
    if row == 2:
        ax.set_xlabel('t', fontsize=17, labelpad=0)
    if i == 5:
        leg = ax.legend([l1, l2, l3], legend_labels, loc='upper right', fontsize=12.5,
                        fancybox=False, handlelength=1.6, handletextpad=1.2,
                        labelspacing=0.35, borderpad=0.45)
        leg.get_frame().set_edgecolor('k')
        leg.get_frame().set_linewidth(2)

fig.savefig('out.png', dpi=100)
